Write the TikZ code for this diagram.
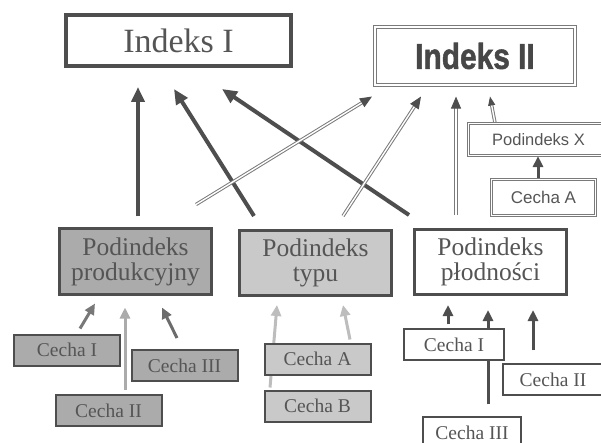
\documentclass[tikz,border=0pt]{standalone}
\usepackage{fontspec}
\setmainfont{Liberation Serif}
\setsansfont{Liberation Sans}
\newfontfamily\heavyfont[FakeBold=1.5]{Liberation Sans Bold}
\usetikzlibrary{arrows.meta, calc, backgrounds}

\definecolor{darkline}{HTML}{4E4E4E}
\definecolor{textgray}{HTML}{555555}
\definecolor{heavygray}{HTML}{474747}
\definecolor{dblgray}{HTML}{7A7A7A}
\definecolor{fillP}{HTML}{ABABAB}
\definecolor{fillT}{HTML}{C9C9C9}
\definecolor{arrowmid}{HTML}{787878}
\definecolor{arrowlight}{HTML}{ABABAB}
\definecolor{arrowpale}{HTML}{BDBDBD}

\begin{document}
\begin{tikzpicture}[x=1pt, y=-1pt,
  box/.style={rectangle, inner sep=0pt, text=textgray, align=center},
  dblbox/.style={box, draw=dblgray, double=white, line width=1.1pt, double distance=1.6pt},
  subbox/.style={box, draw=darkline, line width=3pt, minimum width=152pt, minimum height=65pt,
    font=\fontsize{25.5}{25}\selectfont},
  cechabox/.style={box, draw=darkline, line width=2pt, minimum width=106pt, minimum height=31pt,
    font=\fontsize{19.5}{19.5}\selectfont},
  bigarrow/.style={draw=darkline, line width=4pt, -{Triangle[width=13pt,length=15pt]}},
  dblarrow/.style={draw=dblgray, double=white, line width=1pt, double distance=1.4pt,
    -{Triangle[width=10pt,length=12pt,color=darkline]}},
  featarrow/.style={line width=3pt, -{Triangle[width=10pt,length=11pt]}}]

\useasboundingbox (0,0) rectangle (601,443);
\clip (0,0) rectangle (601,443);

% Indices
\node[box, draw=darkline, line width=4pt, minimum width=225pt, minimum height=51pt,
  font=\fontsize{34}{34}\selectfont] (idxI) at (178.5,40.5) {Indeks I};
\node[dblbox, minimum width=200pt, minimum height=58pt, text=heavygray] (idxII) at (475,56)
  {\scalebox{0.83}[1]{\heavyfont\fontsize{36}{36}\selectfont Indeks II}};

% Podindeks X with its feature
\node[dblbox, minimum width=140pt, minimum height=32pt, font=\sffamily\fontsize{16.5}{16.5}\selectfont]
  (subX) at (538.5,139.5) {Podindeks X};
\node[dblbox, minimum width=104pt, minimum height=36pt, font=\sffamily\fontsize{17}{17}\selectfont]
  (chAX) at (543.5,197.5) {Cecha A};

% Sub-indices
\node[subbox, fill=fillP] (podP) at (135.5,261.5) {Podindeks\\produkcyjny};
\node[subbox, fill=fillT] (podT) at (315.5,263) {Podindeks\\typu};
\node[subbox, fill=white] (podF) at (490.5,262) {Podindeks\\płodności};

% Features of the production sub-index
\node[cechabox, fill=fillP] (chPI) at (67,350) {Cecha I};
\node[cechabox, fill=fillP] (chPIII) at (184.5,365.5) {Cecha III};
\node[cechabox, fill=fillP] (chPII) at (108.5,410.5) {Cecha II};

% Features of the type sub-index
\node[cechabox, fill=fillT] (chTA) at (317.5,359) {Cecha A};
\node[cechabox, fill=fillT] (chTB) at (317.5,406) {Cecha B};

% Features of the fertility sub-index
\node[cechabox, fill=white, line width=1.5pt, minimum width=100pt] (chFI) at (454,344.5) {Cecha I};
\node[cechabox, fill=white, line width=1.5pt, minimum width=100pt] (chFII) at (553,379.5) {Cecha II};
\node[cechabox, fill=white, line width=1.5pt, minimum width=98pt] (chFIII) at (472,432.5) {Cecha III};

\begin{scope}[on background layer]
% Arrows into Indeks I
\draw[bigarrow] ($(podP.north)+(2.5,-11)$) -- ($(idxI.south)+(-40.5,19)$);
\draw[bigarrow] ($(podT.north)+(-61.5,-13)$) -- ($(idxI.south)+(-4.5,21)$);
\draw[bigarrow] ($(podF.north)+(-81.5,-13)$) -- ($(idxI.south)+(43.5,21)$);

% Arrows into Indeks II
\draw[dblarrow] ($(podP.north)+(60.5,-23)$) -- ($(idxII.south)+(-103,11)$);
\draw[dblarrow] ($(podT.north)+(27.5,-13)$) -- ($(idxII.south)+(-54,11)$);
\draw[dblarrow] ($(podF.north)+(-34.5,-13)$) -- ($(idxII.south)+(-19,11)$);
\draw[dblarrow, -{Triangle[width=7pt,length=9pt,color=darkline]}] ($(subX.north)+(-43.5,0)$) -- ($(idxII.south)+(15,11)$);
\draw[featarrow, draw=darkline] ($(chAX.north)+(-5.5,0)$) -- ($(subX.south)+(-0.5,0)$);

% Features into sub-indices
\draw[featarrow, draw=arrowmid] ($(chPI.north)+(13,-5)$) -- ($(podP.south)+(-40.5,8)$);
\draw[featarrow, draw=arrowlight] ($(chPII.north)+(16.5,-4)$) -- ($(podP.south)+(-10.5,12)$);
\draw[featarrow, draw=arrowmid!90!black] ($(chPIII.north)+(-7.5,-11)$) -- ($(podP.south)+(26.5,12)$);
\draw[featarrow, draw=arrowpale] ($(chTB.north)+(-47.5,-2)$) -- ($(podT.south)+(-38.5,8)$);
\draw[featarrow, draw=arrowpale] ($(chTA.north)+(32.5,-3)$) -- ($(podT.south)+(27.5,8)$);
\draw[featarrow, draw=darkline] ($(chFI.north)+(-6,-4)$) -- ($(podF.south)+(-42.5,9)$);
\draw[featarrow, draw=darkline] ($(chFIII.north)+(16,-12)$) -- ($(podF.south)+(-2.5,14)$);
\draw[featarrow, draw=darkline] ($(chFII.north)+(-20,-13)$) -- ($(podF.south)+(42.5,14)$);
\end{scope}

\end{tikzpicture}
\end{document}
